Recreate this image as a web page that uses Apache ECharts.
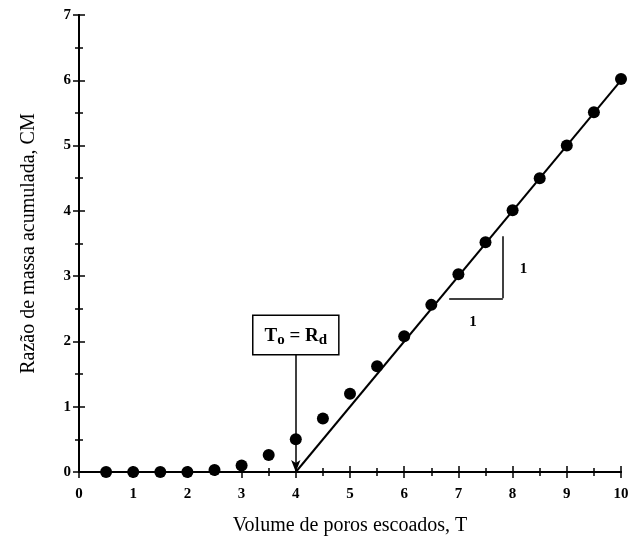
<!DOCTYPE html>
<html><head><meta charset="utf-8">
<script src="https://cdn.jsdelivr.net/npm/echarts@6/dist/echarts.min.js"></script>
<style>html,body{margin:0;padding:0;background:#fff}#c{width:632px;height:541px}</style>
</head><body><div id="c"></div>
<script>
// Data
var xValues = [0.5, 1, 1.5, 2, 2.5, 3, 3.5, 4, 4.5, 5, 5.5, 6, 6.5, 7, 7.5, 8, 8.5, 9, 9.5, 10];
var cmValues = [0, 0, 0, 0, 0.03, 0.1, 0.26, 0.5, 0.82, 1.2, 1.62, 2.08, 2.56, 3.03, 3.52, 4.01, 4.5, 5.0, 5.51, 6.02];
var fitX = [4, 10];
var fitY = [0, 6];
// Annotations (data coordinates)
var arrowTop = [4, 1.84];
var arrowBottom = [4, 0];
var boxAnchor = [4, 2.1];
var slopeH = [[6.83, 2.66], [7.82, 2.66]];
var slopeV = [[7.82, 3.61], [7.82, 2.66]];
var slopeLabelV = [8.2, 3.1];
var slopeLabelH = [7.27, 2.3];

var FONT = '"Liberation Serif", "Times New Roman", serif';
var scatterData = xValues.map(function (x, i) { return [x, cmValues[i]]; });
var fitData = fitX.map(function (x, i) { return [x, fitY[i]]; });

function baseAxis(extra) {
  var a = {
    type: 'value',
    axisLine: { show: true, onZero: false, lineStyle: { color: '#000', width: 2 } },
    splitLine: { show: false },
    axisTick: { show: true, length: 6, lineStyle: { color: '#000', width: 1.5 } },
    minorTick: { show: true, splitNumber: 2, length: 4, lineStyle: { color: '#000', width: 1.5 } },
    axisLabel: { color: '#000', fontFamily: FONT, fontWeight: 'bold', fontSize: 15, margin: 8 }
  };
  for (var k in extra) a[k] = extra[k];
  return a;
}

var chart = echarts.init(document.getElementById('c'));
chart.setOption({
  animation: false,
  backgroundColor: '#fff',
  grid: { left: 79, right: 11, top: 15, bottom: 69, containLabel: false },
  xAxis: [
    baseAxis({ min: 0, max: 10, interval: 1, name: 'Volume de poros escoados, T', nameLocation: 'middle', nameGap: 44,
      axisLabel: { color: '#000', fontFamily: FONT, fontWeight: 'bold', fontSize: 15, margin: 15 },
      nameTextStyle: { color: '#000', fontFamily: FONT, fontSize: 20 } }),
    baseAxis({ min: 0, max: 10, interval: 1, position: 'bottom', axisLabel: { show: false },
      axisTick: { show: true, inside: true, length: 6, lineStyle: { color: '#000', width: 1.5 } },
      minorTick: { show: true, splitNumber: 2, length: 4, lineStyle: { color: '#000', width: 1.5 } } })
  ],
  yAxis: [
    baseAxis({ min: 0, max: 7, interval: 1, name: 'Razão de massa acumulada, CM', nameLocation: 'middle', nameGap: 40,
      nameTextStyle: { color: '#000', fontFamily: FONT, fontSize: 20 } }),
    baseAxis({ min: 0, max: 7, interval: 1, position: 'left', axisLabel: { show: false },
      axisTick: { show: true, inside: true, length: 6, lineStyle: { color: '#000', width: 1.5 } },
      minorTick: { show: true, splitNumber: 2, length: 4, lineStyle: { color: '#000', width: 1.5 } } })
  ],
  series: [
    {
      type: 'line', data: fitData, showSymbol: false, symbol: 'none',
      lineStyle: { color: '#000', width: 2 }, z: 3,
      markLine: {
        silent: true, animation: false,
        label: { show: false },
        lineStyle: { color: '#000', width: 1.5, type: 'solid' },
        data: [
          [{ coord: arrowTop, symbol: 'none' }, { coord: arrowBottom, symbol: 'arrow', symbolSize: [7, 12] }],
          [{ coord: slopeH[0], symbol: 'none' }, { coord: slopeH[1], symbol: 'none' }],
          [{ coord: slopeV[0], symbol: 'none' }, { coord: slopeV[1], symbol: 'none' }]
        ]
      },
      markPoint: {
        silent: true, animation: false,
        symbol: 'circle', symbolSize: 0,
        data: [
          { coord: boxAnchor, label: {
              show: true, position: 'inside',
              formatter: '{a|T}{s|o}{a| = R}{s|d}',
              backgroundColor: '#fff', borderColor: '#000', borderWidth: 1.5,
              padding: [8, 11, 6, 11],
              rich: {
                a: { fontFamily: FONT, fontWeight: 'bold', fontSize: 19, color: '#000' },
                s: { fontFamily: FONT, fontWeight: 'bold', fontSize: 15, color: '#000', padding: [9, 0, 0, 0] }
              } } },
          { coord: slopeLabelV, label: { show: true, position: 'inside', formatter: '1', fontFamily: FONT, fontWeight: 'bold', fontSize: 15, color: '#000' } },
          { coord: slopeLabelH, label: { show: true, position: 'inside', formatter: '1', fontFamily: FONT, fontWeight: 'bold', fontSize: 15, color: '#000' } }
        ]
      }
    },
    {
      type: 'scatter', data: scatterData, symbol: 'circle', symbolSize: 12,
      itemStyle: { color: '#000', opacity: 1 }, z: 4
    }
  ]
});
</script>
</body></html>
